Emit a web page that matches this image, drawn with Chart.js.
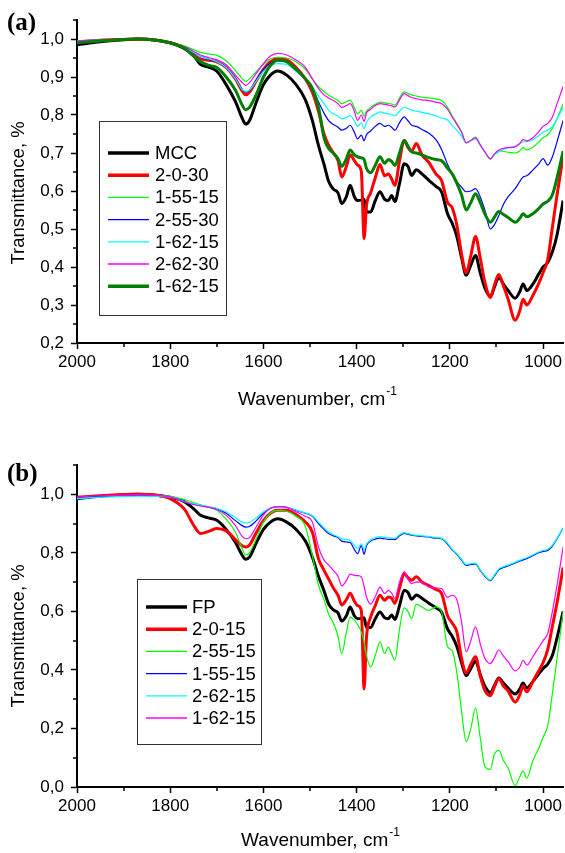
<!DOCTYPE html>
<html>
<head>
<meta charset="utf-8">
<script src="https://cdn.jsdelivr.net/npm/chart.js@4/dist/chart.umd.min.js"></script>
<style>
	html, body { margin: 0; padding: 0; background: #fff; }
	canvas { position: absolute; left: 0; }
</style>
</head>
<body>
<canvas id="chartA" width="565" height="420" style="top:0"></canvas>
<canvas id="chartB" width="565" height="433" style="top:420px"></canvas>
<script>
// wavenumber grid, cm-1 (shared by every spectrum)
const WAVENUMBERS = [
	2000, 1950, 1900, 1870, 1830, 1800, 1770, 1750, 1735, 1715,
	1700, 1680, 1660, 1645, 1638, 1630, 1615, 1600, 1585, 1570,
	1550, 1530, 1510, 1495, 1482, 1470, 1460, 1450, 1440, 1432,
	1422, 1414, 1405, 1398, 1390, 1384, 1379, 1370, 1360, 1350,
	1340, 1332, 1325, 1318, 1308, 1298, 1290, 1282, 1272, 1260,
	1245, 1230, 1218, 1205, 1195, 1185, 1175, 1165, 1155, 1145,
	1135, 1125, 1113, 1105, 1095, 1085, 1075, 1060, 1050, 1043,
	1035, 1022, 1010, 1000, 990, 980, 970, 957,
];

// ---- panel (a) ----
const MCC = [
	0.985, 0.993, 0.998, 1.000, 0.997, 0.990, 0.975, 0.957, 0.933, 0.925,
	0.915, 0.880, 0.835, 0.790, 0.776, 0.785, 0.835, 0.880, 0.905, 0.916,
	0.905, 0.880, 0.840, 0.785, 0.720, 0.670, 0.625, 0.605, 0.595, 0.567,
	0.585, 0.615, 0.585, 0.575, 0.576, 0.578, 0.545, 0.545, 0.575, 0.598,
	0.578, 0.575, 0.588, 0.572, 0.620, 0.672, 0.665, 0.641, 0.656, 0.645,
	0.628, 0.612, 0.598, 0.540, 0.515, 0.480, 0.425, 0.378, 0.405, 0.430,
	0.385, 0.345, 0.322, 0.345, 0.372, 0.355, 0.338, 0.318, 0.335, 0.355,
	0.338, 0.355, 0.380, 0.400, 0.412, 0.440, 0.485, 0.575,
];
const A_2_0_30 = [
	0.993, 0.997, 0.999, 1.000, 0.997, 0.990, 0.978, 0.962, 0.948, 0.944,
	0.940, 0.925, 0.895, 0.862, 0.853, 0.860, 0.890, 0.920, 0.940, 0.948,
	0.945, 0.925, 0.895, 0.860, 0.810, 0.750, 0.720, 0.700, 0.680, 0.637,
	0.665, 0.695, 0.680, 0.668, 0.652, 0.475, 0.560, 0.595, 0.635, 0.670,
	0.640, 0.645, 0.632, 0.615, 0.680, 0.733, 0.715, 0.705, 0.725, 0.695,
	0.675, 0.645, 0.628, 0.570, 0.556, 0.510, 0.435, 0.385, 0.430, 0.480,
	0.425, 0.360, 0.320, 0.350, 0.380, 0.350, 0.315, 0.260, 0.285, 0.315,
	0.300, 0.325, 0.355, 0.385, 0.420, 0.505, 0.590, 0.690,
];
const A_1_55_15 = [
	0.995, 0.997, 0.999, 1.000, 0.997, 0.990, 0.982, 0.972, 0.965, 0.960,
	0.957, 0.943, 0.917, 0.895, 0.888, 0.895, 0.915, 0.933, 0.948, 0.952,
	0.950, 0.940, 0.920, 0.895, 0.875, 0.862, 0.852, 0.845, 0.838, 0.830,
	0.835, 0.839, 0.820, 0.803, 0.812, 0.796, 0.810, 0.820, 0.828, 0.834,
	0.832, 0.830, 0.829, 0.826, 0.845, 0.861, 0.857, 0.853, 0.850, 0.847,
	0.845, 0.842, 0.838, 0.820, 0.798, 0.778, 0.755, 0.727, 0.733, 0.742,
	0.722, 0.703, 0.683, 0.695, 0.706, 0.704, 0.702, 0.700, 0.706, 0.714,
	0.708, 0.715, 0.728, 0.740, 0.748, 0.765, 0.790, 0.830,
];
const A_2_55_30 = [
	0.995, 0.997, 0.999, 1.000, 0.997, 0.990, 0.978, 0.965, 0.953, 0.945,
	0.940, 0.925, 0.895, 0.866, 0.860, 0.865, 0.893, 0.920, 0.937, 0.943,
	0.940, 0.920, 0.895, 0.870, 0.835, 0.805, 0.785, 0.775, 0.768, 0.760,
	0.765, 0.773, 0.755, 0.737, 0.747, 0.732, 0.748, 0.758, 0.770, 0.778,
	0.770, 0.773, 0.768, 0.760, 0.780, 0.795, 0.785, 0.773, 0.770, 0.762,
	0.752, 0.735, 0.710, 0.670, 0.645, 0.625, 0.610, 0.598, 0.600, 0.606,
	0.585, 0.550, 0.500, 0.510, 0.535, 0.565, 0.585, 0.606, 0.625, 0.637,
	0.640, 0.655, 0.670, 0.685, 0.668, 0.690, 0.730, 0.786,
];
const A_1_62_15 = [
	0.995, 0.997, 0.999, 1.000, 0.997, 0.990, 0.978, 0.965, 0.953, 0.947,
	0.940, 0.925, 0.895, 0.866, 0.862, 0.866, 0.890, 0.915, 0.930, 0.935,
	0.933, 0.915, 0.895, 0.875, 0.850, 0.830, 0.812, 0.803, 0.797, 0.790,
	0.794, 0.798, 0.785, 0.770, 0.779, 0.764, 0.780, 0.795, 0.802, 0.808,
	0.805, 0.803, 0.802, 0.798, 0.810, 0.821, 0.817, 0.813, 0.810, 0.807,
	0.803, 0.798, 0.792, 0.787, 0.772, 0.760, 0.745, 0.726, 0.732, 0.738,
	0.720, 0.703, 0.685, 0.695, 0.703, 0.710, 0.714, 0.718, 0.725, 0.729,
	0.730, 0.735, 0.745, 0.755, 0.760, 0.770, 0.790, 0.820,
];
const A_2_62_30 = [
	0.995, 0.997, 0.999, 1.000, 0.997, 0.990, 0.980, 0.968, 0.958, 0.950,
	0.945, 0.932, 0.905, 0.885, 0.878, 0.885, 0.910, 0.935, 0.955, 0.962,
	0.958, 0.945, 0.925, 0.895, 0.870, 0.853, 0.845, 0.838, 0.830, 0.820,
	0.825, 0.830, 0.810, 0.786, 0.800, 0.783, 0.805, 0.815, 0.825, 0.830,
	0.828, 0.826, 0.824, 0.821, 0.840, 0.856, 0.851, 0.846, 0.843, 0.840,
	0.838, 0.834, 0.830, 0.815, 0.795, 0.775, 0.755, 0.727, 0.733, 0.740,
	0.722, 0.703, 0.685, 0.697, 0.708, 0.712, 0.714, 0.716, 0.725, 0.735,
	0.732, 0.740, 0.755, 0.770, 0.778, 0.795, 0.830, 0.875,
];
const A_1_62_15_DARK = [
	0.990, 0.995, 0.999, 1.000, 0.997, 0.990, 0.976, 0.955, 0.940, 0.930,
	0.925, 0.900, 0.865, 0.825, 0.814, 0.820, 0.855, 0.900, 0.930, 0.944,
	0.940, 0.920, 0.895, 0.870, 0.821, 0.740, 0.712, 0.700, 0.685, 0.665,
	0.685, 0.708, 0.695, 0.690, 0.687, 0.683, 0.660, 0.648, 0.668, 0.690,
	0.673, 0.683, 0.678, 0.667, 0.700, 0.733, 0.718, 0.703, 0.700, 0.695,
	0.688, 0.683, 0.680, 0.660, 0.645, 0.620, 0.590, 0.550, 0.570, 0.593,
	0.570, 0.540, 0.518, 0.530, 0.546, 0.538, 0.530, 0.518, 0.528, 0.540,
	0.532, 0.540, 0.553, 0.566, 0.573, 0.590, 0.635, 0.705,
];

// ---- panel (b) ----
const FP = [
	0.985, 0.993, 0.998, 1.000, 0.997, 0.990, 0.975, 0.951, 0.928, 0.918,
	0.911, 0.880, 0.835, 0.790, 0.778, 0.785, 0.835, 0.880, 0.905, 0.916,
	0.905, 0.880, 0.840, 0.785, 0.720, 0.670, 0.625, 0.605, 0.595, 0.567,
	0.585, 0.615, 0.585, 0.575, 0.576, 0.578, 0.545, 0.545, 0.575, 0.598,
	0.578, 0.575, 0.588, 0.572, 0.620, 0.672, 0.665, 0.641, 0.656, 0.645,
	0.628, 0.612, 0.598, 0.540, 0.515, 0.480, 0.425, 0.380, 0.405, 0.430,
	0.385, 0.345, 0.322, 0.345, 0.372, 0.355, 0.338, 0.318, 0.335, 0.355,
	0.338, 0.360, 0.385, 0.405, 0.420, 0.450, 0.510, 0.600,
];
const B_2_0_15 = [
	0.990, 0.995, 0.999, 1.000, 0.997, 0.985, 0.950, 0.895, 0.866, 0.875,
	0.883, 0.875, 0.845, 0.823, 0.820, 0.826, 0.870, 0.910, 0.935, 0.945,
	0.945, 0.930, 0.905, 0.870, 0.780, 0.740, 0.710, 0.680, 0.655, 0.622,
	0.640, 0.662, 0.635, 0.620, 0.603, 0.335, 0.510, 0.580, 0.620, 0.655,
	0.638, 0.649, 0.645, 0.627, 0.680, 0.729, 0.715, 0.706, 0.718, 0.700,
	0.688, 0.675, 0.662, 0.585, 0.560, 0.530, 0.440, 0.390, 0.420, 0.445,
	0.380, 0.330, 0.312, 0.340, 0.370, 0.345, 0.328, 0.290, 0.315, 0.345,
	0.325, 0.360, 0.395, 0.425, 0.470, 0.550, 0.630, 0.750,
];
const B_2_55_15 = [
	0.985, 0.992, 0.995, 0.996, 0.996, 0.993, 0.982, 0.972, 0.963, 0.955,
	0.945, 0.915, 0.870, 0.812, 0.792, 0.800, 0.850, 0.905, 0.935, 0.945,
	0.942, 0.925, 0.890, 0.790, 0.690, 0.640, 0.590, 0.560, 0.515, 0.455,
	0.530, 0.580, 0.570, 0.555, 0.530, 0.495, 0.450, 0.410, 0.450, 0.496,
	0.456, 0.478, 0.455, 0.433, 0.540, 0.612, 0.600, 0.575, 0.625, 0.615,
	0.603, 0.615, 0.600, 0.480, 0.465, 0.390, 0.260, 0.155, 0.200, 0.270,
	0.170, 0.070, 0.060, 0.110, 0.125, 0.090, 0.065, 0.005, 0.035, 0.055,
	0.030, 0.090, 0.130, 0.170, 0.210, 0.320, 0.440, 0.600,
];
const B_1_55_15 = [
	0.990, 0.993, 0.995, 0.996, 0.995, 0.990, 0.975, 0.966, 0.962, 0.955,
	0.950, 0.935, 0.910, 0.892, 0.888, 0.890, 0.910, 0.935, 0.952, 0.958,
	0.955, 0.945, 0.935, 0.925, 0.900, 0.880, 0.866, 0.858, 0.852, 0.840,
	0.837, 0.835, 0.812, 0.797, 0.825, 0.795, 0.825, 0.840, 0.847, 0.850,
	0.848, 0.846, 0.846, 0.845, 0.858, 0.866, 0.864, 0.860, 0.858, 0.856,
	0.854, 0.850, 0.848, 0.830, 0.810, 0.795, 0.775, 0.757, 0.760, 0.762,
	0.740, 0.720, 0.705, 0.720, 0.742, 0.750, 0.755, 0.765, 0.772, 0.776,
	0.780, 0.790, 0.800, 0.805, 0.808, 0.823, 0.848, 0.885,
];
const B_2_62_15 = [
	0.985, 0.990, 0.993, 0.994, 0.993, 0.990, 0.976, 0.968, 0.963, 0.957,
	0.952, 0.940, 0.920, 0.904, 0.902, 0.904, 0.920, 0.940, 0.953, 0.957,
	0.955, 0.946, 0.936, 0.927, 0.905, 0.885, 0.870, 0.862, 0.855, 0.847,
	0.846, 0.842, 0.826, 0.815, 0.831, 0.812, 0.830, 0.845, 0.852, 0.855,
	0.853, 0.851, 0.850, 0.849, 0.862, 0.869, 0.866, 0.862, 0.860, 0.858,
	0.856, 0.852, 0.850, 0.833, 0.812, 0.797, 0.778, 0.760, 0.763, 0.765,
	0.742, 0.722, 0.707, 0.723, 0.745, 0.753, 0.758, 0.768, 0.775, 0.779,
	0.783, 0.793, 0.803, 0.808, 0.812, 0.826, 0.850, 0.885,
];
const B_1_62_15 = [
	0.990, 0.995, 0.997, 0.998, 0.996, 0.990, 0.975, 0.965, 0.960, 0.955,
	0.948, 0.928, 0.893, 0.855, 0.848, 0.852, 0.890, 0.930, 0.952, 0.958,
	0.955, 0.940, 0.925, 0.905, 0.820, 0.775, 0.758, 0.740, 0.720, 0.687,
	0.705, 0.727, 0.723, 0.722, 0.718, 0.685, 0.650, 0.625, 0.650, 0.683,
	0.661, 0.672, 0.662, 0.644, 0.700, 0.735, 0.710, 0.695, 0.700, 0.700,
	0.683, 0.680, 0.678, 0.648, 0.655, 0.640, 0.565, 0.462, 0.500, 0.547,
	0.490, 0.440, 0.422, 0.440, 0.468, 0.447, 0.428, 0.397, 0.410, 0.433,
	0.416, 0.445, 0.475, 0.500, 0.525, 0.600, 0.690, 0.820,
];

// minor tick positions
const X_MINOR = [1900, 1700, 1500, 1300, 1100];
const Y_MINOR_A = [0.25, 0.35, 0.45, 0.55, 0.65, 0.75, 0.85, 0.95, 1.05];
const Y_MINOR_B = [0.1, 0.3, 0.5, 0.7, 0.9, 1.1];

const FONT = '"Liberation Sans", Arial, sans-serif';

function decorPlugin(cfg) {
	return {
		id: 'decor',
		afterDraw(chart) {
			const ctx = chart.ctx;
			const area = chart.chartArea;
			const xs = chart.scales.x;
			const ys = chart.scales.y;
			ctx.save();
			ctx.strokeStyle = '#000';
			ctx.lineWidth = 1.5;
			X_MINOR.forEach(v => {
				const px = Math.round(xs.getPixelForValue(v));
				ctx.beginPath();
				ctx.moveTo(px, area.bottom);
				ctx.lineTo(px, area.bottom + 4);
				ctx.stroke();
			});
			cfg.yMinor.forEach(v => {
				const py = Math.round(ys.getPixelForValue(v));
				ctx.beginPath();
				ctx.moveTo(area.left, py);
				ctx.lineTo(area.left - 4, py);
				ctx.stroke();
			});

			ctx.fillStyle = '#000';
			ctx.textBaseline = 'middle';
			ctx.textAlign = 'left';
			ctx.font = 'bold 25px "Liberation Serif", "Times New Roman", serif';
			ctx.fillText(cfg.panel, cfg.panelX, cfg.panelY);

			// y title
			ctx.font = '18.5px ' + FONT;
			ctx.save();
			ctx.translate(cfg.yTitleX, cfg.yTitleY);
			ctx.rotate(-Math.PI / 2);
			ctx.textAlign = 'center';
			ctx.fillText('Transmittance, %', 0, 0);
			ctx.restore();

			// x title with superscript
			const main = 'Wavenumber, cm';
			const sup = '-1';
			ctx.font = '19px ' + FONT;
			const w1 = ctx.measureText(main).width;
			ctx.font = '12px ' + FONT;
			const w2 = ctx.measureText(sup).width;
			const x0 = cfg.xTitleX - (w1 + w2) / 2;
			ctx.font = '19px ' + FONT;
			ctx.fillText(main, x0, cfg.xTitleY);
			ctx.font = '12px ' + FONT;
			ctx.fillText(sup, x0 + w1 + 1, cfg.xTitleY - 8);
			ctx.restore();
		},
	};
}

function legendPlugin(lg) {
	return {
		id: 'boxLegend',
		afterDraw(chart) {
			const ctx = chart.ctx;
			ctx.save();
			ctx.fillStyle = '#fff';
			ctx.fillRect(lg.x, lg.y, lg.w, lg.h);
			ctx.strokeStyle = '#333';
			ctx.lineWidth = 1;
			ctx.strokeRect(lg.x + 0.5, lg.y + 0.5, lg.w, lg.h);
			ctx.font = '18.5px ' + FONT;
			ctx.textBaseline = 'middle';
			ctx.textAlign = 'left';
			chart.data.datasets.forEach((ds, i) => {
				const y = lg.firstY + i * lg.rowH;
				ctx.strokeStyle = ds.borderColor;
				ctx.lineWidth = ds.borderWidth > 2 ? 3.5 : 1.3;
				ctx.beginPath();
				ctx.moveTo(lg.lineX1, y);
				ctx.lineTo(lg.lineX2, y);
				ctx.stroke();
				ctx.fillStyle = '#000';
				ctx.fillText(ds.label, lg.textX, y + 1);
			});
			ctx.restore();
		},
	};
}

function buildChart(canvas, panel) {
	const n = panel.series.length;
	const datasets = panel.series.map((s, i) => ({
		label: s.label,
		data: WAVENUMBERS.map((w, k) => ({ x: w, y: s.values[k] })),
		borderColor: s.color,
		borderWidth: s.width,
		pointRadius: 0,
		fill: false,
		cubicInterpolationMode: 'monotone',
		order: n - i,
	}));

	const tickFont = { family: FONT, size: 17 };

	return new Chart(canvas, {
		type: 'line',
		data: { datasets: datasets },
		options: {
			responsive: false,
			animation: false,
			devicePixelRatio: 1,
			layout: { padding: { top: panel.top, left: 0, right: 0, bottom: 0 } },
			plugins: {
				legend: { display: false },
				tooltip: { enabled: false },
			},
			scales: {
				x: {
					type: 'linear',
					reverse: true,
					min: 957,
					max: 2000,
					afterFit: scale => {
						scale.height = panel.xAxisHeight;
					},
					grid: {
						drawOnChartArea: false,
						drawTicks: true,
						tickLength: 6,
						tickWidth: 1.5,
						tickColor: '#000',
					},
					border: { display: true, color: '#000', width: 2 },
					ticks: {
						stepSize: 200,
						autoSkip: false,
						includeBounds: false,
						maxRotation: 0,
						color: '#000',
						font: tickFont,
						padding: 3,
						callback: v => String(v),
					},
				},
				y: {
					type: 'linear',
					min: panel.yMin,
					max: panel.yMax,
					afterFit: scale => {
						scale.width = 77;
					},
					grid: {
						drawOnChartArea: false,
						drawTicks: true,
						tickLength: 6,
						tickWidth: 1.5,
						tickColor: '#000',
					},
					border: { display: true, color: '#000', width: 2 },
					ticks: {
						stepSize: panel.yStep,
						autoSkip: false,
						includeBounds: false,
						color: '#000',
						font: tickFont,
						padding: 7,
						callback: v => v.toFixed(1).replace('.', ','),
					},
				},
			},
		},
		plugins: [decorPlugin(panel.decor), legendPlugin(panel.legend)],
	});
}

const chartA = buildChart(document.getElementById('chartA'), {
	top: 20,
	xAxisHeight: 77,
	yMin: 0.2,
	yMax: 1.05,
	yStep: 0.1,
	series: [
		{ label: 'MCC', values: MCC, color: '#000000', width: 3 },
		{ label: '2-0-30', values: A_2_0_30, color: '#ff0000', width: 3 },
		{ label: '1-55-15', values: A_1_55_15, color: '#00ff00', width: 1.2 },
		{ label: '2-55-30', values: A_2_55_30, color: '#0000ff', width: 1.2 },
		{ label: '1-62-15', values: A_1_62_15, color: '#00ffff', width: 1.2 },
		{ label: '2-62-30', values: A_2_62_30, color: '#ff00ff', width: 1.2 },
		{ label: '1-62-15', values: A_1_62_15_DARK, color: '#008000', width: 3 },
	],
	decor: {
		panel: '(a)', panelX: 7, panelY: 24,
		yMinor: Y_MINOR_A,
		yTitleX: 19, yTitleY: 193,
		xTitleX: 317, xTitleY: 400,
	},
	legend: {
		x: 99, y: 121, w: 127, h: 194,
		firstY: 153, rowH: 22.2,
		lineX1: 108, lineX2: 149, textX: 155,
	},
});

const chartB = buildChart(document.getElementById('chartB'), {
	top: 45,
	xAxisHeight: 66,
	yMin: 0,
	yMax: 1.1,
	yStep: 0.2,
	series: [
		{ label: 'FP', values: FP, color: '#000000', width: 3 },
		{ label: '2-0-15', values: B_2_0_15, color: '#ff0000', width: 3 },
		{ label: '2-55-15', values: B_2_55_15, color: '#00ff00', width: 1.2 },
		{ label: '1-55-15', values: B_1_55_15, color: '#0000ff', width: 1.2 },
		{ label: '2-62-15', values: B_2_62_15, color: '#00ffff', width: 1.2 },
		{ label: '1-62-15', values: B_1_62_15, color: '#ff00ff', width: 1.2 },
	],
	decor: {
		panel: '(b)', panelX: 7, panelY: 55,
		yMinor: Y_MINOR_B,
		yTitleX: 19, yTitleY: 216,
		xTitleX: 320, xTitleY: 421,
	},
	legend: {
		x: 137, y: 159, w: 124, h: 165,
		firstY: 187, rowH: 22.2,
		lineX1: 146, lineX2: 187, textX: 192,
	},
});
</script>
</body>
</html>
